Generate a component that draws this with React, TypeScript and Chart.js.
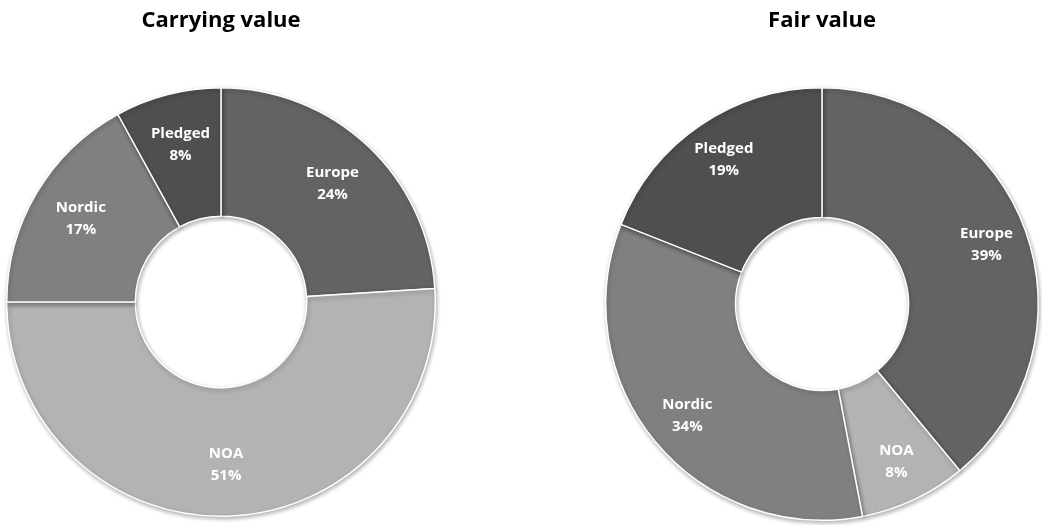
import React, { useEffect, useRef } from "react";
import { Chart, registerables } from "chart.js";

Chart.register(...registerables);

const categories = ["Europe", "NOA", "Nordic", "Pledged"];
const carryingValues = [24, 51, 17, 8];
const fairValues = [39, 8, 34, 19];
const sliceColors = ["#636363", "#b3b3b3", "#808080", "#4f4f4f"];
const titles = ["Carrying value", "Fair value"];

const FONT = "'Open Sans', Lato, sans-serif";

const labelPlugin = {
  id: "sliceLabels",
  afterDatasetsDraw(chart: any, _args: any, opts: any) {
    const ctx = chart.ctx;
    const meta = chart.getDatasetMeta(0);
    const data = chart.data.datasets[0].data as number[];
    const frac = opts.frac ?? 0.62;
    ctx.save();
    ctx.fillStyle = "#ffffff";
    ctx.font = `bold 15px ${FONT}`;
    ctx.textAlign = "center";
    ctx.textBaseline = "middle";
    meta.data.forEach((arc: any, i: number) => {
      const p = arc.getProps(["x", "y", "startAngle", "endAngle", "innerRadius", "outerRadius"], true);
      const mid = (p.startAngle + p.endAngle) / 2;
      const r = p.innerRadius + frac * (p.outerRadius - p.innerRadius);
      const x = p.x + Math.cos(mid) * r;
      const y = p.y + Math.sin(mid) * r;
      ctx.fillText(String(chart.data.labels[i]), x, y - 11);
      ctx.fillText(`${data[i]}%`, x, y + 11);
    });
    ctx.restore();
  },
};

const shadowPlugin = {
  id: "arcShadow",
  beforeDatasetsDraw(chart: any) {
    const ctx = chart.ctx;
    ctx.save();
    ctx.shadowColor = "rgba(0,0,0,0.3)";
    ctx.shadowBlur = 4;
    ctx.shadowOffsetX = 1;
    ctx.shadowOffsetY = 2;
  },
  afterDatasetsDraw(chart: any) {
    chart.ctx.restore();
  },
};

function Donut({ values, title, left, bottomPad, frac }: { values: number[]; title: string; left: number; bottomPad: number; frac: number }) {
  const ref = useRef<HTMLCanvasElement>(null);
  useEffect(() => {
    const chart = new Chart(ref.current!, {
      type: "doughnut",
      data: {
        labels: categories,
        datasets: [
          {
            data: values,
            backgroundColor: sliceColors,
            borderColor: "#ffffff",
            borderWidth: 1.5,
          },
        ],
      },
      options: {
        animation: false,
        responsive: false,
        cutout: "40%",
        layout: { padding: { top: 0, bottom: bottomPad, left: 0, right: 0 } },
        plugins: {
          legend: { display: false },
          tooltip: { enabled: false },
          title: {
            display: true,
            text: title,
            color: "#000000",
            font: { family: FONT, size: 22, weight: "bold" },
            padding: { top: 8, bottom: 52.6 },
          },
          sliceLabels: { frac },
        } as any,
      },
      plugins: [shadowPlugin, labelPlugin],
    });
    return () => chart.destroy();
  }, []);
  return (
    <div style={{ position: "absolute", left, top: 0, width: 442, height: 525 }}>
      <canvas ref={ref} width={442} height={525} style={{ width: 442, height: 525 }} />
    </div>
  );
}

export default function App() {
  return (
    <div style={{ position: "absolute", left: 0, top: 0, width: 1042, height: 525, background: "#ffffff" }}>
      <Donut values={carryingValues} title={titles[0]} left={0} bottomPad={8} frac={0.6} />
      <Donut values={fairValues} title={titles[1]} left={601} bottomPad={4} frac={0.68} />
    </div>
  );
}
